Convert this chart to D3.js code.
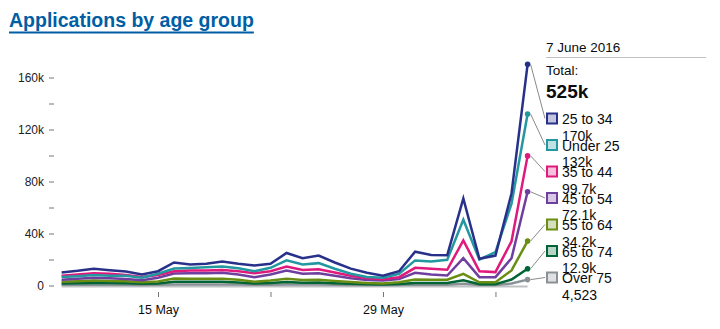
<!DOCTYPE html>
<html>
<head>
<meta charset="utf-8">
<script src="https://cdn.jsdelivr.net/npm/d3@7/dist/d3.min.js"></script>
<style>
  body { margin: 0; background: #fff; }
  svg { display: block; }
  text { font-family: "Liberation Sans", Arial, sans-serif; fill: #0b0c0c; }
</style>
</head>
<body>
<svg id="chart" width="720" height="329"></svg>
<script>
// Daily applications, 9 May – 7 June 2016
const dates = [
  "2016-05-09","2016-05-10","2016-05-11","2016-05-12","2016-05-13","2016-05-14","2016-05-15",
  "2016-05-16","2016-05-17","2016-05-18","2016-05-19","2016-05-20","2016-05-21","2016-05-22",
  "2016-05-23","2016-05-24","2016-05-25","2016-05-26","2016-05-27","2016-05-28","2016-05-29",
  "2016-05-30","2016-05-31","2016-06-01","2016-06-02","2016-06-03","2016-06-04","2016-06-05",
  "2016-06-06","2016-06-07"
];

const ageGroups = ["25 to 34", "Under 25", "35 to 44", "45 to 54", "55 to 64", "65 to 74", "Over 75"];

const age25to34 = [10000, 11300, 12900, 11800, 10800, 8500, 11000, 17700, 16200, 16700, 18500, 16700, 15400, 16700,
  25000, 21000, 23000, 17700, 13000, 9800, 7500, 11000, 26000, 23500, 23300, 67000, 20600, 23000, 71000, 170100];
const under25 = [6500, 7200, 8000, 7500, 7500, 6000, 9000, 13000, 13500, 14000, 14600, 13300, 11000, 13600,
  19300, 16200, 17200, 12900, 9000, 6500, 6000, 9000, 19300, 18500, 19800, 50600, 20000, 25700, 63000, 131900];
const age35to44 = [7500, 8500, 9500, 9000, 8000, 6500, 8000, 11000, 11500, 11500, 12000, 11000, 9500, 11000,
  14600, 12000, 12500, 10000, 7500, 5500, 4900, 6400, 13600, 12900, 12100, 34700, 11000, 10300, 34000, 99700];
const age45to54 = [4500, 5200, 6000, 5500, 5000, 4000, 6000, 9200, 9500, 9500, 9800, 8500, 6400, 8500,
  11600, 9000, 9500, 7500, 5500, 4200, 3900, 4900, 9800, 8500, 7700, 21000, 6400, 6400, 21000, 72100];
const age55to64 = [2800, 3200, 3800, 3500, 3200, 2500, 3000, 5300, 5200, 5200, 5200, 4500, 2800, 3800,
  5200, 4200, 4500, 3500, 2600, 1900, 1600, 2500, 4600, 4400, 4400, 9000, 2500, 2500, 11600, 34200];
const age65to74 = [1500, 1700, 2000, 1900, 1700, 1300, 1600, 2800, 2800, 2800, 2800, 2400, 1500, 2000,
  2600, 2200, 2300, 1800, 1300, 1000, 800, 1200, 2000, 1900, 1900, 4000, 1000, 1000, 4600, 12900];
const over75 = [500, 550, 650, 600, 550, 450, 500, 850, 850, 850, 850, 750, 500, 650,
  800, 700, 700, 600, 450, 350, 300, 400, 700, 650, 650, 1300, 400, 400, 1500, 4523];

const seriesValues = [age25to34, under25, age35to44, age45to54, age55to64, age65to74, over75];

const yTicks = [0, 20000, 40000, 60000, 80000, 100000, 120000, 140000, 160000];
const yTickLabels = ["0", "", "40k", "", "80k", "", "120k", "", "160k"];
const xTickDates = ["2016-05-15", "2016-05-22", "2016-05-29", "2016-06-05"];
const xTickLabels = ["15 May", "", "29 May", ""];

const lineColours = ["#28318a", "#2398a0", "#e0197d", "#6f3f9f", "#6a8d14", "#006435", "#8a9296"];

const svg = d3.select("#chart");
const parse = d3.utcParse("%Y-%m-%d");
const days = dates.map(parse);

const x = d3.scaleUtc().domain([days[0], days[days.length - 1]]).range([61.6, 527.6]);
const y = d3.scaleLinear().domain([0, 160000]).range([285.5, 77.5]);

// Title
const title = svg.append("text")
  .attr("x", 9).attr("y", 27)
  .style("font-size", "19.5px").style("font-weight", "bold").style("fill", "#005ea5")
  .text("Applications by age group");
const tw = title.node().getComputedTextLength();
svg.append("rect").attr("x", 9).attr("y", 31.5).attr("width", tw).attr("height", 2).attr("fill", "#005ea5");

// Y axis
const yAxis = svg.append("g")
  .attr("transform", "translate(54,0)")
  .call(d3.axisLeft(y).tickValues(yTicks).tickFormat((d, i) => yTickLabels[i]).tickSize(5).tickPadding(5));
yAxis.select(".domain").remove();
yAxis.selectAll("line").attr("stroke", "#6f777b");
yAxis.selectAll("text").style("font-size", "12px").style("fill", "#222").attr("font-family", null);

// Baseline
svg.append("line")
  .attr("x1", x(days[0])).attr("x2", x(days[days.length - 1]))
  .attr("y1", y(0) + 1).attr("y2", y(0) + 1)
  .attr("stroke", "#bfc1c3").attr("stroke-width", 2);

// X axis
const xAxis = svg.append("g")
  .attr("transform", "translate(0,292)")
  .call(d3.axisBottom(x).tickValues(xTickDates.map(parse)).tickFormat((d, i) => xTickLabels[i]).tickSize(5).tickPadding(8));
xAxis.select(".domain").remove();
xAxis.selectAll("line").attr("stroke", "#6f777b");
xAxis.selectAll("text").style("font-size", "12.5px").style("fill", "#0b0c0c").attr("font-family", null);

// Lines, drawn smallest first so the largest group sits on top
const line = d3.line().x((d, i) => x(days[i])).y(d => y(d));
const order = d3.range(seriesValues.length).reverse();
svg.append("g").selectAll("path")
  .data(order)
  .join("path")
  .attr("d", k => line(seriesValues[k]))
  .attr("fill", "none")
  .attr("stroke", k => lineColours[k])
  .attr("stroke-width", 2.5);

// End markers
const lastIdx = days.length - 1;
svg.append("g").selectAll("circle")
  .data(order)
  .join("circle")
  .attr("cx", x(days[lastIdx]))
  .attr("cy", k => y(seriesValues[k][lastIdx]))
  .attr("r", 2.8)
  .attr("fill", k => lineColours[k]);

// Legend panel
const lx = 546;
svg.append("text").attr("x", lx).attr("y", 52).style("font-size", "13.5px").text("7 June 2016");
svg.append("line").attr("x1", lx).attr("x2", 706).attr("y1", 57.5).attr("y2", 57.5)
  .attr("stroke", "#bfc1c3").attr("stroke-width", 1);
svg.append("text").attr("x", lx).attr("y", 75).style("font-size", "13.5px").text("Total:");
const total = d3.sum(seriesValues, s => s[lastIdx]);
svg.append("text").attr("x", lx).attr("y", 97.5).style("font-size", "19px").style("font-weight", "bold")
  .text(d3.format(".3s")(total));

const fmt = v => v >= 10000 ? d3.format(".3s")(v) : d3.format(",")(v);
const itemY = i => 118.5 + i * 26.5;

const conn = svg.append("g");
const items = svg.append("g").selectAll("g")
  .data(ageGroups)
  .join("g")
  .attr("transform", (d, i) => `translate(${lx},${itemY(i)})`);

conn.selectAll("line")
  .data(ageGroups)
  .join("line")
  .attr("x1", x(days[lastIdx]) + 3)
  .attr("y1", (d, i) => y(seriesValues[i][lastIdx]))
  .attr("x2", lx - 1)
  .attr("y2", (d, i) => itemY(i))
  .attr("stroke", "#8a8a8a")
  .attr("stroke-width", 1);

items.append("rect")
  .attr("x", 1).attr("y", -5).attr("width", 10).attr("height", 10)
  .attr("fill", (d, i) => d3.interpolateRgb("#fff", lineColours[i])(0.28))
  .attr("stroke", (d, i) => lineColours[i])
  .attr("stroke-width", 2);

items.append("text")
  .attr("x", 16).attr("y", 5.5)
  .style("font-size", "14px")
  .text(d => d);

items.append("text")
  .attr("x", 16).attr("y", 22)
  .style("font-size", "14px")
  .text((d, i) => fmt(seriesValues[i][lastIdx]));
</script>
</body>
</html>
